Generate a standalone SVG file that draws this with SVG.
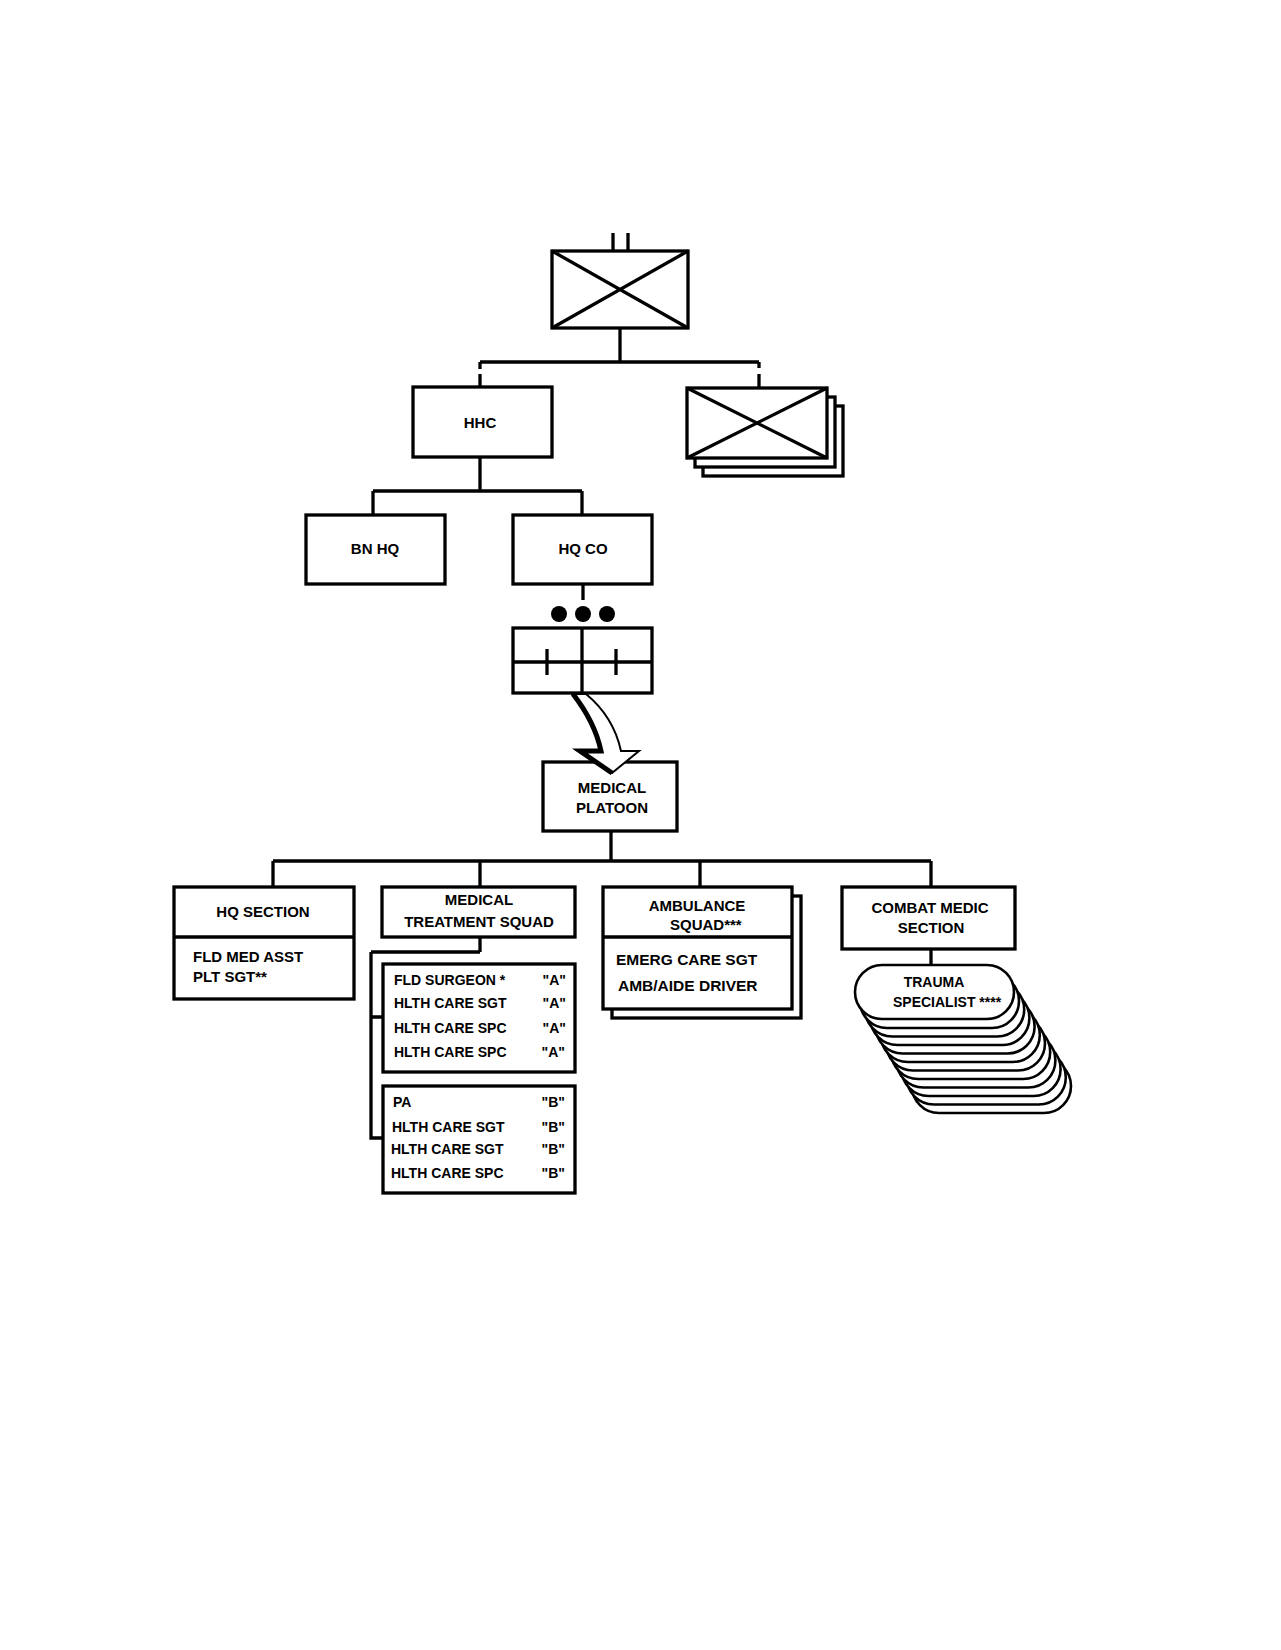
<svg xmlns="http://www.w3.org/2000/svg" width="1281" height="1650" viewBox="0 0 1281 1650">
<style>
.box{fill:#fff;stroke:#000;stroke-width:3.3}
.ln{fill:none;stroke:#000;stroke-width:3.3}
.st{fill:#fff;stroke:#000;stroke-width:2.6}
text{font-family:"Liberation Sans",Arial,sans-serif;font-weight:bold;fill:#000}
.t15{font-size:15px}
.t14{font-size:14px}
.c{text-anchor:middle}
.e{text-anchor:end}
</style>
<rect width="1281" height="1650" fill="#fff"/>
<g id="connectors">
<path class="ln" d="M613 233V251M628 233V251"/>
<path class="ln" d="M620 328V362M480 362H759M480 362V369M480 374V388M759 362V368M759 374V389"/>
<path class="ln" d="M480 457V491M373 491H582M373 491V515M582 491V515"/>
<path class="ln" d="M583 584V600"/>
<path class="ln" d="M611 831V861M273 861H931M273 861V887M480 861V887M700 861V887M931 861V887"/>
<path class="ln" d="M480 937V952M371 952H480M371 952V1138H383M371 1017H383"/>
<path class="ln" d="M931 949V966"/>
</g>
<g id="brigade">
<rect class="box" x="552" y="251" width="136" height="77"/>
<path class="ln" d="M552 251L688 328M688 251L552 328"/>
</g>
<g id="other-battalions">
<rect class="box" x="703" y="406" width="140" height="70"/>
<rect class="box" x="695" y="397" width="140" height="70"/>
<rect class="box" x="687" y="388" width="140" height="70"/>
<path class="ln" d="M687 388L827 458M827 388L687 458"/>
</g>
<g id="hhc">
<rect class="box" x="413" y="387" width="139" height="70"/>
<text class="t15 c" x="480" y="428">HHC</text>
</g>
<g id="bn-hq">
<rect class="box" x="306" y="515" width="139" height="69"/>
<text class="t15 c" x="375" y="554">BN HQ</text>
</g>
<g id="hq-co">
<rect class="box" x="513" y="515" width="139" height="69"/>
<text class="t15 c" x="583" y="554">HQ CO</text>
</g>
<g id="medical-platoon-symbol">
<circle cx="559" cy="614" r="8"/>
<circle cx="583" cy="614" r="8"/>
<circle cx="607" cy="614" r="8"/>
<rect class="box" x="513" y="628" width="139" height="65"/>
<path class="ln" d="M582 628V693M513 662H652M547 649V675M616 649V675"/>
</g>
<g id="medical-platoon">
<rect class="box" x="543" y="762" width="134" height="69"/>
<text class="t15 c" x="612" y="793">MEDICAL</text>
<text class="t15 c" x="612" y="813">PLATOON</text>
</g>
<g id="expand-arrow">
<path d="M572 694C586 712 596 732 600 751L578 751L612 773L639 751L621 751C616 728 603 708 586 694Z" fill="#fff" stroke="#000" stroke-width="2" stroke-linejoin="miter"/>
<path d="M573 694C587 712 597 732 601 751L580 751L612 773" fill="none" stroke="#000" stroke-width="5"/>
</g>
<g id="hq-section">
<rect class="box" x="174" y="887" width="180" height="112"/>
<path class="ln" d="M174 937H354"/>
<text class="t15 c" x="263" y="917">HQ SECTION</text>
<text class="t15" x="193" y="962">FLD MED ASST</text>
<text class="t15" x="193" y="982">PLT SGT**</text>
</g>
<g id="medical-treatment-squad">
<rect class="box" x="382" y="887" width="193" height="50"/>
<text class="t15 c" x="479" y="905">MEDICAL</text>
<text class="t15 c" x="479" y="927">TREATMENT SQUAD</text>
</g>
<g id="team-a">
<rect class="box" x="383" y="964" width="192" height="108"/>
<text class="t14" x="394" y="985">FLD SURGEON *</text>
<text class="t14" x="394" y="1008">HLTH CARE SGT</text>
<text class="t14" x="394" y="1033">HLTH CARE SPC</text>
<text class="t14" x="394" y="1057">HLTH CARE SPC</text>
<text class="t14 e" x="566" y="985">"A"</text>
<text class="t14 e" x="566" y="1008">"A"</text>
<text class="t14 e" x="566" y="1033">"A"</text>
<text class="t14 e" x="565" y="1057">"A"</text>
</g>
<g id="team-b">
<rect class="box" x="383" y="1086" width="192" height="107"/>
<text class="t14" x="393" y="1107">PA</text>
<text class="t14" x="392" y="1132">HLTH CARE SGT</text>
<text class="t14" x="391" y="1154">HLTH CARE SGT</text>
<text class="t14" x="391" y="1178">HLTH CARE SPC</text>
<text class="t14 e" x="565" y="1107">"B"</text>
<text class="t14 e" x="565" y="1132">"B"</text>
<text class="t14 e" x="565" y="1154">"B"</text>
<text class="t14 e" x="565" y="1178">"B"</text>
</g>
<g id="ambulance-squad">
<rect class="box" x="612" y="896" width="189" height="122"/>
<rect class="box" x="603" y="887" width="189" height="122"/>
<path class="ln" d="M603 937H792"/>
<text class="t15 c" x="697" y="911">AMBULANCE</text>
<text class="t15" x="670" y="930">SQUAD***</text>
<text class="t15" x="616" y="965" style="font-size:15.5px">EMERG CARE SGT</text>
<text class="t15" x="618" y="991" style="font-size:15.5px">AMB/AIDE DRIVER</text>
</g>
<g id="combat-medic-section">
<rect class="box" x="842" y="887" width="173" height="62"/>
<text class="t15 c" x="930" y="913">COMBAT MEDIC</text>
<text class="t15 c" x="931" y="933">SECTION</text>
</g>
<g id="trauma-specialists">
<rect class="st" x="912" y="1059" width="159" height="54" rx="27"/>
<rect class="st" x="906.8" y="1050.5" width="159" height="54" rx="27"/>
<rect class="st" x="901.6" y="1042" width="159" height="54" rx="27"/>
<rect class="st" x="896.4" y="1033.5" width="159" height="54" rx="27"/>
<rect class="st" x="891.2" y="1025" width="159" height="54" rx="27"/>
<rect class="st" x="886" y="1016.5" width="159" height="54" rx="27"/>
<rect class="st" x="880.8" y="1008" width="159" height="54" rx="27"/>
<rect class="st" x="875.6" y="999.5" width="159" height="54" rx="27"/>
<rect class="st" x="870.4" y="991" width="159" height="54" rx="27"/>
<rect class="st" x="865.2" y="982.5" width="159" height="54" rx="27"/>
<rect class="st" x="860" y="974" width="159" height="54" rx="27"/>
<rect class="st" x="855" y="965" width="159" height="54" rx="27"/>
<text class="t14 c" x="934" y="987">TRAUMA</text>
<text class="t14" x="893" y="1007">SPECIALIST ****</text>
</g>
</svg>
